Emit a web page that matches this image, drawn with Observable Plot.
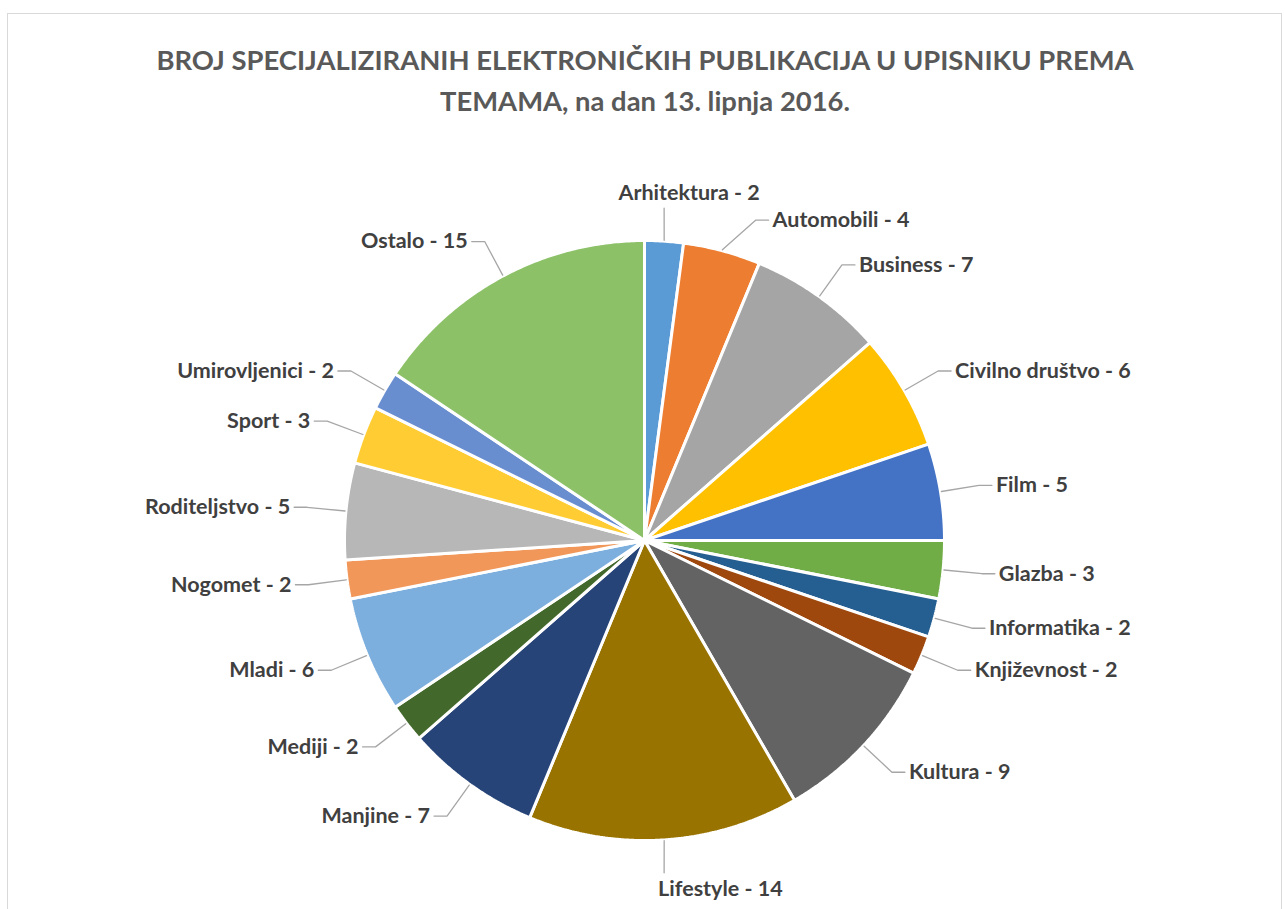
<!DOCTYPE html>
<html><head><meta charset="utf-8">
<script src="https://cdn.jsdelivr.net/npm/d3@7"></script>
<script src="https://cdn.jsdelivr.net/npm/@observablehq/plot@0.6"></script>
<style>
html,body{margin:0;padding:0;background:#fff;overflow:hidden;width:1285px;height:909px;}
#frame{position:absolute;left:7px;top:13px;width:1275px;height:940px;border:1px solid #d9d9d9;box-sizing:border-box;}
#title{position:absolute;left:7px;top:39px;width:1276px;text-align:center;font-family:Lato,"Open Sans",sans-serif;font-weight:bold;font-size:27.4px;color:#595959;line-height:41px;}
#chart{position:absolute;left:0;top:130px;}
</style></head><body>
<div id="frame"></div>
<div id="title">BROJ SPECIJALIZIRANIH ELEKTRONIČKIH PUBLIKACIJA U UPISNIKU PREMA<br>TEMAMA, na dan 13. lipnja 2016.</div>
<div id="chart"></div>
<script>
const categories = ["Arhitektura","Automobili","Business","Civilno društvo","Film","Glazba","Informatika","Književnost","Kultura","Lifestyle","Manjine","Mediji","Mladi","Nogomet","Roditeljstvo","Sport","Umirovljenici","Ostalo"];
const values = [2,4,7,6,5,3,2,2,9,14,7,2,6,2,5,3,2,15];
const colors = ["#5B9BD5","#ED7D31","#A5A5A5","#FFC000","#4472C4","#70AD47","#255E91","#9E480E","#636363","#997300","#264478","#43682B","#7CAFDD","#F1975A","#B7B7B7","#FFCD33","#698ED0","#8CC168"];

// layout
const W = 1285, H = 779, CX = 644, CY = 410, RPX = 300;
const total = d3.sum(values);
let cum = 0;
const slices = categories.map((c, i) => {
  const a0 = cum / total * 2 * Math.PI; cum += values[i];
  const a1 = cum / total * 2 * Math.PI;
  return {c, v: values[i], a0, a1, mid: (a0 + a1) / 2, label: `${c} - ${values[i]}`};
});

// slice polygons (arc geometry sampled)
const poly = [];
for (const s of slices) {
  poly.push({c: s.c, x: 0, y: 0});
  const n = Math.max(2, Math.ceil((s.a1 - s.a0) / (Math.PI / 360)));
  for (let k = 0; k <= n; k++) {
    const a = s.a0 + (s.a1 - s.a0) * k / n;
    poly.push({c: s.c, x: Math.sin(a), y: Math.cos(a)});
  }
}

// label layout: elbow on a circle, pushed apart vertically to avoid overlap
const rElbow = 1.13, tail = 13 / RPX, vert = 0.15, gap = 27 / RPX;
const items = slices.map(s => {
  const sx = Math.sin(s.mid), cy = Math.cos(s.mid);
  const kind = Math.abs(sx) < vert ? (cy > 0 ? "top" : "bottom") : (sx > 0 ? "right" : "left");
  const ey = kind === "top" || kind === "bottom" ? cy * 1.11 : cy * rElbow;
  return {s, sx, cy, kind, ey};
});
const topItem = items.find(d => d.kind === "top");
for (const side of ["right", "left"]) {
  const list = items.filter(d => d.kind === side).sort((a, b) => b.ey - a.ey);
  let prev = side === "right" && topItem ? topItem.ey + 15 / RPX : Infinity;
  for (const d of list) {
    if (d.ey > prev - gap) d.ey = prev - gap;
    prev = d.ey;
  }
}
const leaders = [], labels = [];
for (const d of items) {
  const {s, sx, cy, kind} = d;
  const p0 = {c: s.c, x: sx * 1.003, y: cy * 1.003};
  if (kind === "top" || kind === "bottom") {
    const e = {c: s.c, x: sx, y: d.ey};
    leaders.push(p0, e);
    labels.push({side: kind, x: e.x, y: e.y, text: s.label});
  } else {
    const side = kind === "right" ? 1 : -1;
    const ex = side * Math.sqrt(Math.max(0, rElbow * rElbow - d.ey * d.ey));
    const e = {c: s.c, x: ex, y: d.ey};
    const t = {c: s.c, x: ex + side * tail, y: d.ey};
    leaders.push(p0, e, t);
    labels.push({side: kind, x: t.x, y: t.y, text: s.label});
  }
}

const font = {fontFamily: "Lato, 'Open Sans', sans-serif", fontWeight: "bold", fontSize: 21.5, fill: "#404040"};
const chart = Plot.plot({
  width: W, height: H,
  marginTop: 0, marginRight: 0, marginBottom: 0, marginLeft: 0,
  x: {domain: [-CX / RPX, (W - CX) / RPX], axis: null},
  y: {domain: [-(H - CY) / RPX, CY / RPX], axis: null},
  color: {domain: categories, range: colors},
  style: {background: "transparent"},
  marks: [
    Plot.line(poly, {x: "x", y: "y", z: "c", fill: "c", stroke: "white", strokeWidth: 3, curve: "linear-closed", strokeLinejoin: "miter"}),
    Plot.line(leaders, {x: "x", y: "y", z: "c", stroke: "#A6A6A6", strokeWidth: 1.3, strokeLinejoin: "miter"}),
    Plot.text(labels.filter(d => d.side === "right"), {x: "x", y: "y", text: "text", textAnchor: "start", dx: 4, ...font}),
    Plot.text(labels.filter(d => d.side === "left"), {x: "x", y: "y", text: "text", textAnchor: "end", dx: -4, ...font}),
    Plot.text(labels.filter(d => d.side === "top"), {x: "x", y: "y", text: "text", textAnchor: "middle", dx: 25, dy: -15, ...font}),
    Plot.text(labels.filter(d => d.side === "bottom"), {x: "x", y: "y", text: "text", textAnchor: "start", dx: -6, dy: 16, ...font})
  ]
});
document.getElementById("chart").appendChild(chart);
</script>
</body></html>
